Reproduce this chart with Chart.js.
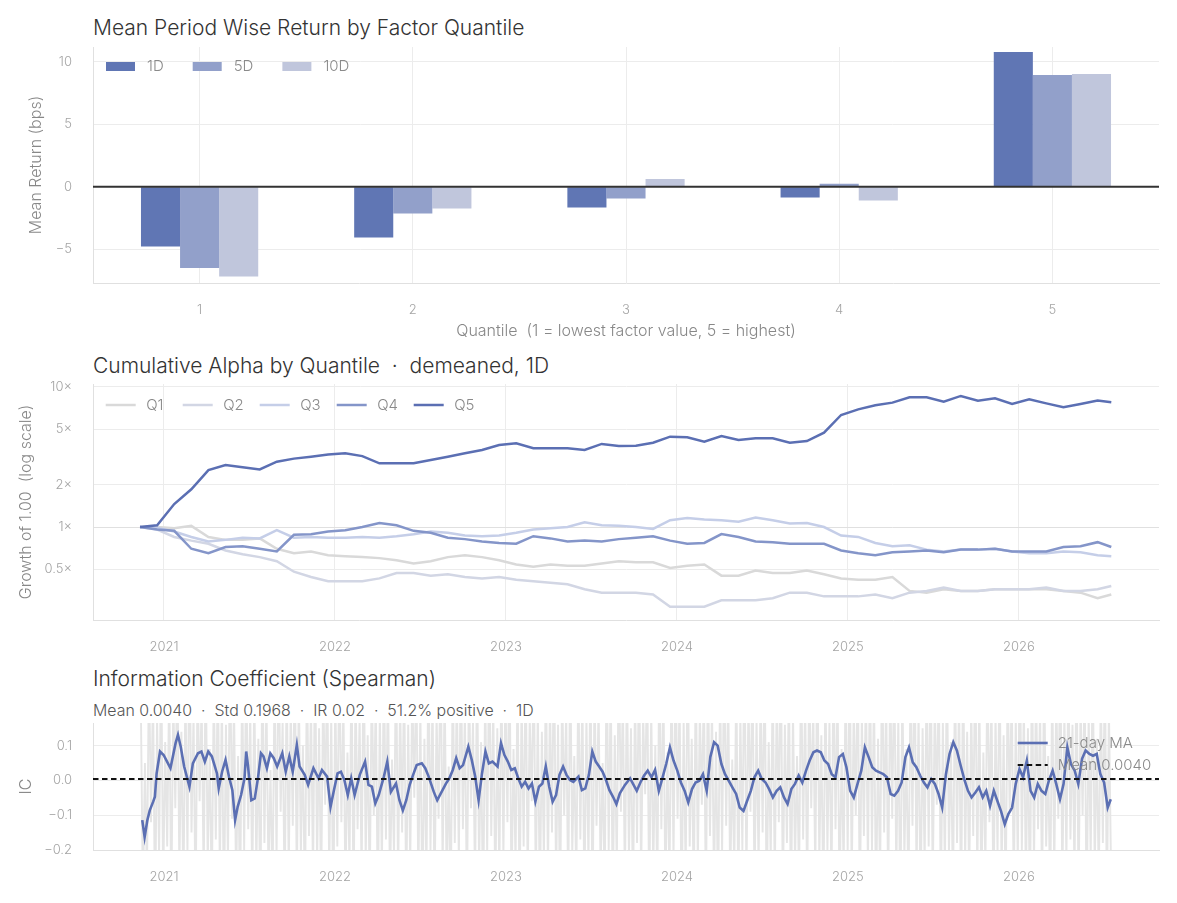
<!DOCTYPE html>
<html>
<head>
<meta charset="utf-8">
<script src="https://cdn.jsdelivr.net/npm/chart.js@4.4.1/dist/chart.umd.min.js"></script>
<style>
  body { margin: 0; background: #fff; font-family: Inter, "Noto Sans", sans-serif; }
  #wrap { position: relative; width: 1177px; height: 903px; overflow: hidden; }
  .panel { position: absolute; left: 0; width: 1177px; }
  .ttl { position: absolute; left: 93px; font-weight: 300; color: #333; font-size: 21px; line-height: 1; white-space: pre; }
  .sub { position: absolute; left: 93px; font-weight: 300; color: #555; font-size: 15.9px; line-height: 1; white-space: pre; }
</style>
</head>
<body>
<div id="wrap">
  <div class="ttl" style="top:17px">Mean Period Wise Return by Factor Quantile</div>
  <div class="panel" style="top:0;height:345px"><canvas id="c1"></canvas></div>

  <div class="ttl" style="top:355px">Cumulative Alpha by Quantile  ·  demeaned, 1D</div>
  <div class="panel" style="top:345px;height:315px"><canvas id="c2"></canvas></div>

  <div class="ttl" style="top:668px">Information Coefficient (Spearman)</div>
  <div class="sub" style="top:703px">Mean 0.0040  ·  Std 0.1968  ·  IR 0.02  ·  51.2% positive  ·  1D</div>
  <div class="panel" style="top:660px;height:243px"><canvas id="c3"></canvas></div>
</div>

<script>
// ---- data: mean return by quantile (bps)
const quantiles = ['1', '2', '3', '4', '5'];
const ret1D  = [-4.78, -4.05, -1.65, -0.85, 10.8];
const ret5D  = [-6.5, -2.13, -0.93, 0.24, 8.96];
const ret10D = [-7.17, -1.73, 0.63, -1.1, 9.04];
const retTicks = [-5, 0, 5, 10];

// ---- data: cumulative growth by quantile (decimal years)
const cumDates = [2020.86, 2020.96, 2021.06, 2021.16, 2021.26, 2021.36, 2021.46, 2021.56, 2021.66, 2021.76,
  2021.86, 2021.96, 2022.06, 2022.16, 2022.26, 2022.36, 2022.46, 2022.56, 2022.66, 2022.76,
  2022.86, 2022.96, 2023.06, 2023.16, 2023.26, 2023.36, 2023.46, 2023.56, 2023.66, 2023.76,
  2023.86, 2023.96, 2024.06, 2024.16, 2024.26, 2024.36, 2024.46, 2024.56, 2024.66, 2024.76,
  2024.86, 2024.96, 2025.06, 2025.16, 2025.26, 2025.36, 2025.46, 2025.56, 2025.66, 2025.76,
  2025.86, 2025.96, 2026.06, 2026.16, 2026.26, 2026.36, 2026.46, 2026.54];
const cumQ1 = [1.00, 1.00, 0.98, 1.02, 0.85, 0.81, 0.81, 0.83, 0.70, 0.65, 0.67, 0.63, 0.62, 0.61, 0.60, 0.58, 0.55, 0.57, 0.61,
  0.63, 0.61, 0.58, 0.54, 0.52, 0.54, 0.53, 0.53, 0.55, 0.57, 0.56, 0.56, 0.51, 0.53, 0.54, 0.45, 0.45, 0.49, 0.47, 0.47,
  0.49, 0.46, 0.43, 0.42, 0.42, 0.44, 0.35, 0.34, 0.36, 0.35, 0.35, 0.36, 0.36, 0.36, 0.36, 0.35, 0.34, 0.31, 0.33];
const cumQ2 = [1.00, 0.96, 0.85, 0.80, 0.76, 0.68, 0.64, 0.61, 0.57, 0.48, 0.44, 0.41, 0.41, 0.41, 0.43, 0.47, 0.47, 0.45, 0.46,
  0.44, 0.43, 0.44, 0.42, 0.41, 0.40, 0.39, 0.36, 0.34, 0.34, 0.34, 0.33, 0.27, 0.27, 0.27, 0.30, 0.30, 0.30, 0.31, 0.34,
  0.34, 0.32, 0.32, 0.32, 0.33, 0.31, 0.34, 0.35, 0.37, 0.35, 0.35, 0.36, 0.36, 0.36, 0.37, 0.35, 0.35, 0.36, 0.38];
const cumQ3 = [1.00, 0.99, 0.93, 0.85, 0.79, 0.81, 0.84, 0.83, 0.95, 0.84, 0.85, 0.84, 0.84, 0.85, 0.84, 0.86, 0.89, 0.93, 0.91,
  0.87, 0.86, 0.87, 0.91, 0.96, 0.98, 1.00, 1.08, 1.03, 1.02, 1.00, 0.97, 1.12, 1.16, 1.13, 1.12, 1.09, 1.17, 1.12, 1.06,
  1.07, 1.00, 0.87, 0.85, 0.77, 0.73, 0.74, 0.69, 0.67, 0.69, 0.69, 0.70, 0.67, 0.65, 0.65, 0.67, 0.66, 0.63, 0.62];
const cumQ4 = [1.00, 0.96, 0.94, 0.70, 0.65, 0.72, 0.73, 0.70, 0.67, 0.88, 0.89, 0.93, 0.95, 1.00, 1.07, 1.03, 0.94, 0.91, 0.84,
  0.82, 0.79, 0.77, 0.76, 0.86, 0.83, 0.79, 0.80, 0.79, 0.82, 0.84, 0.86, 0.80, 0.76, 0.77, 0.89, 0.85, 0.79, 0.78, 0.76,
  0.76, 0.76, 0.68, 0.65, 0.63, 0.66, 0.67, 0.68, 0.66, 0.69, 0.69, 0.70, 0.67, 0.67, 0.67, 0.72, 0.73, 0.78, 0.72];
const cumQ5 = [1.00, 1.03, 1.46, 1.86, 2.55, 2.77, 2.67, 2.58, 2.93, 3.08, 3.18, 3.29, 3.36, 3.21, 2.85, 2.85, 2.85, 3.01, 3.18,
  3.36, 3.55, 3.85, 3.96, 3.65, 3.65, 3.65, 3.55, 3.92, 3.79, 3.81, 4.00, 4.42, 4.37, 4.07, 4.47, 4.18, 4.30, 4.30, 4.00,
  4.11, 4.72, 6.31, 6.92, 7.40, 7.73, 8.43, 8.43, 7.85, 8.63, 7.99, 8.30, 7.56, 8.16, 7.64, 7.16, 7.56, 7.99, 7.77];
const growthTicks = [0.5, 1, 2, 5, 10];
const yearTicks = [2021, 2022, 2023, 2024, 2025, 2026];

// ---- data: information coefficient
const icMean = 0.004;
const icRawStart = 2020.865, icRawEnd = 2026.538;
const icRaw = [
  0.21,-0.34,0.05,-0.28,0.33,-0.12,0.26,-0.41,0.18,-0.22,0.39,-0.31,0.11,-0.19,0.29,-0.37,0.24,-0.08,0.35,-0.26,
  0.14,-0.33,0.27,-0.21,0.42,-0.15,0.19,-0.38,0.31,-0.06,0.23,-0.29,0.36,-0.24,0.09,-0.35,0.28,-0.17,0.32,-0.27,
  0.25,-0.4,0.16,-0.23,0.38,-0.11,0.22,-0.3,0.07,-0.36,0.3,-0.2,0.34,-0.14,0.2,-0.32,0.27,-0.25,0.12,-0.39,
  0.37,-0.18,0.24,-0.28,0.03,-0.33,0.29,-0.22,0.4,-0.09,0.17,-0.35,0.31,-0.26,0.21,-0.13,0.35,-0.3,0.26,-0.21,
  0.1,-0.37,0.33,-0.16,0.23,-0.29,0.38,-0.24,0.15,-0.34,0.28,-0.07,0.32,-0.27,0.19,-0.4,0.25,-0.19,0.36,-0.12,
  0.22,-0.31,0.08,-0.25,0.34,-0.36,0.27,-0.14,0.18,-0.28,0.41,-0.23,0.13,-0.33,0.3,-0.1,0.24,-0.38,0.2,-0.26,
  0.35,-0.17,0.29,-0.32,0.06,-0.22,0.39,-0.29,0.23,-0.15,0.31,-0.35,0.16,-0.24,0.27,-0.05,0.33,-0.3,0.21,-0.39,
  0.12,-0.27,0.36,-0.2,0.25,-0.34,0.19,-0.11,0.4,-0.26,0.28,-0.31,0.04,-0.37,0.32,-0.18,0.26,-0.23,0.37,-0.14,
  0.2,-0.36,0.3,-0.08,0.17,-0.3,0.34,-0.25,0.11,-0.4,0.27,-0.21,0.38,-0.16,0.22,-0.33,0.15,-0.27,0.31,-0.22,
  0.26,-0.12,0.39,-0.34,0.09,-0.24,0.29,-0.37,0.24,-0.19,0.33,-0.28,0.18,-0.06,0.35,-0.31,0.21,-0.36,0.14,-0.23,
  0.32,-0.26,0.23,-0.15,0.41,-0.3,0.16,-0.38,0.28,-0.1,0.2,-0.33,0.36,-0.21,0.07,-0.29,0.3,-0.17,0.25,-0.35,
  0.18,-0.24,0.34,-0.39,0.27,-0.13,0.22,-0.27,0.05,-0.32,0.37,-0.2,0.29,-0.36,0.13,-0.25,0.4,-0.09,0.24,-0.3,
  0.31,-0.22,0.15,-0.35,0.26,-0.18,0.38,-0.28,0.19,-0.04,0.33,-0.37,0.21,-0.26,0.1,-0.31,0.35,-0.14,0.28,-0.33,
  0.08,-0.29,0.3,-0.23,0.36,-0.11,0.24,-0.4,0.17,-0.27,0.39,-0.19,0.12,-0.34,0.32,-0.24,0.2,-0.07,0.27,-0.36,
  0.34,-0.16,0.22,-0.31,0.14,-0.38,0.29,-0.21,0.37,-0.13,0.25,-0.3,0.06,-0.26,0.31,-0.35,0.19,-0.2,0.4,-0.28,
  0.23,-0.09,0.33,-0.32,0.18,-0.25,0.27,-0.15,0.35,-0.37,0.11,-0.22,0.3,-0.29,0.26,-0.12,0.38,-0.34,0.16,-0.18,
  0.29,-0.39,0.2,-0.24,0.07,-0.3,0.36,-0.17,0.24,-0.33,0.32,-0.08,0.21,-0.27,0.39,-0.23,0.13,-0.36,0.28,-0.2,
  0.17,-0.31,0.35,-0.14,0.26,-0.35,0.09,-0.26,0.3,-0.21,0.37,-0.29,0.22,-0.1,0.34,-0.38,0.19,-0.16,0.27,-0.25,
  0.33,-0.2,0.26,-0.37,0.12,-0.29,0.38,-0.15,0.24,-0.32,0.3,-0.11,0.35,-0.27,0.18,-0.4,0.28,-0.22,0.09,-0.34,
  0.27,-0.13,0.4,-0.28,0.2,-0.36,0.15,-0.24,0.32,-0.19,0.37,-0.31,0.23,-0.07,0.29,-0.35,0.17,-0.26,0.34,-0.21,
  0.11,-0.33,0.31,-0.18,0.25,-0.39,0.36,-0.23,0.14,-0.3,0.22,-0.16,0.39,-0.28,0.26,-0.34,0.08,-0.25,0.33,-0.12,
  0.24,-0.37,0.19,-0.21,0.35,-0.27,0.13,-0.35,0.3,-0.09,0.27,-0.32,0.18,-0.24,0.41,-0.2,0.22,-0.3,0.15,-0.38,
  0.36,-0.25,0.28,-0.14,0.21,-0.33,0.34,-0.19,0.07,-0.36,0.3,-0.27,0.25,-0.11,0.38,-0.31,0.2,-0.23,0.32,-0.17,
  0.16,-0.28,0.37,-0.34,0.23,-0.1,0.29,-0.39,0.19,-0.22,0.35,-0.26,0.12,-0.3,0.27,-0.18,0.33,-0.35,0.21,-0.24
];
const icMaDates = [2020.873,2020.887,2020.903,2020.917,2020.937,2020.947,2020.957,2020.977,2020.998,2021.018,
  2021.038,2021.068,2021.082,2021.098,2021.118,2021.149,2021.169,2021.199,2021.219,2021.239,
  2021.259,2021.280,2021.310,2021.320,2021.340,2021.360,2021.380,2021.400,2021.416,2021.431,
  2021.451,2021.471,2021.481,2021.491,2021.511,2021.531,2021.551,2021.567,2021.582,2021.602,
  2021.622,2021.642,2021.662,2021.692,2021.712,2021.733,2021.753,2021.777,2021.793,2021.823,
  2021.843,2021.874,2021.904,2021.924,2021.954,2021.974,2021.994,2022.015,2022.035,2022.055,
  2022.075,2022.095,2022.115,2022.145,2022.176,2022.196,2022.216,2022.236,2022.256,2022.286,
  2022.306,2022.327,2022.357,2022.377,2022.397,2022.417,2022.437,2022.457,2022.478,2022.508,
  2022.528,2022.548,2022.578,2022.598,2022.619,2022.649,2022.669,2022.689,2022.709,2022.729,
  2022.749,2022.780,2022.800,2022.820,2022.840,2022.860,2022.880,2022.900,2022.921,2022.951,
  2022.971,2022.991,2023.011,2023.031,2023.052,2023.072,2023.092,2023.112,2023.132,2023.152,
  2023.172,2023.193,2023.213,2023.233,2023.253,2023.273,2023.293,2023.313,2023.334,2023.354,
  2023.374,2023.394,2023.424,2023.444,2023.464,2023.485,2023.505,2023.525,2023.545,2023.565,
  2023.585,2023.605,2023.626,2023.646,2023.666,2023.696,2023.726,
  2023.765,2023.786,2023.808,2023.829,2023.851,2023.872,2023.894,2023.916,2023.937,2023.959,
  2023.980,2024.002,2024.023,2024.045,2024.066,2024.088,2024.109,2024.131,2024.152,2024.174,
  2024.195,2024.217,2024.238,2024.260,2024.281,2024.303,2024.324,2024.346,2024.367,2024.389,
  2024.410,2024.432,2024.453,2024.475,2024.496,2024.518,2024.539,2024.561,2024.583,2024.604,
  2024.626,2024.647,2024.669,2024.690,2024.712,2024.733,2024.755,2024.776,2024.798,2024.819,
  2024.841,2024.862,2024.884,2024.905,2024.927,2024.948,2024.970,2024.991,2025.013,2025.034,
  2025.056,2025.078,2025.099,2025.121,2025.142,2025.164,2025.185,2025.207,2025.228,2025.250,
  2025.271,2025.293,2025.314,2025.336,2025.357,2025.379,2025.400,2025.422,2025.444,2025.465,
  2025.487,2025.508,2025.530,2025.551,2025.573,2025.594,2025.616,2025.637,2025.659,2025.680,
  2025.702,2025.723,2025.745,2025.766,2025.788,2025.809,2025.831,2025.853,2025.874,2025.895,
  2025.917,2025.938,2025.960,2025.981,2026.003,2026.024,2026.046,2026.068,2026.089,2026.110,
  2026.132,2026.154,2026.175,2026.197,2026.218,2026.240,2026.261,2026.283,2026.304,2026.326,
  2026.347,2026.369,2026.390,2026.412,2026.433,2026.455,2026.476,2026.498,2026.519,2026.537];
const icMaValues = [-0.114,-0.163,-0.114,-0.086,-0.061,-0.047,0.020,0.083,0.073,0.054,
  0.035,0.107,0.131,0.097,0.040,-0.018,0.049,0.078,0.083,0.054,
  0.083,0.069,0.020,-0.023,0.025,0.059,0.011,-0.028,-0.114,-0.076,
  -0.042,0.006,0.083,0.044,-0.057,-0.052,0.011,0.078,0.069,0.035,
  0.078,0.064,0.040,0.078,0.025,0.069,0.025,0.102,0.040,0.016,
  -0.013,0.035,0.006,0.030,0.011,-0.076,-0.028,0.020,0.025,0.001,
  -0.042,0.006,-0.042,0.016,0.054,-0.013,-0.018,-0.066,-0.042,0.011,
  0.054,-0.033,-0.009,-0.057,-0.086,-0.057,-0.013,0.016,0.044,0.049,
  0.035,0.011,-0.033,-0.057,-0.037,-0.009,0.006,0.030,0.064,0.035,
  0.044,0.097,0.059,0.011,-0.057,0.020,0.083,0.049,0.054,0.040,
  0.107,0.073,0.054,0.030,0.035,0.006,-0.018,-0.004,-0.023,-0.009,
  -0.061,-0.018,-0.009,0.040,-0.018,-0.061,-0.042,0.016,0.040,0.016,
  0.001,-0.004,0.011,-0.028,-0.023,0.016,0.083,0.054,0.040,0.025,
  0.001,-0.028,-0.047,-0.068,-0.037,-0.013,0.006,
  -0.030,-0.006,0.014,0.028,0.009,0.030,-0.030,0.009,0.047,0.095,
  0.057,0.028,-0.006,-0.030,-0.063,-0.025,-0.006,-0.001,0.018,-0.030,
  0.067,0.110,0.100,0.047,0.018,-0.001,-0.020,-0.039,-0.078,-0.088,
  -0.059,-0.030,0.009,0.028,0.004,-0.006,-0.025,-0.049,-0.030,-0.020,
  -0.049,-0.068,-0.025,-0.010,0.014,-0.006,0.028,0.057,0.081,0.086,
  0.081,0.057,0.047,0.018,0.009,0.067,0.076,0.038,-0.030,-0.049,
  -0.010,0.028,0.095,0.067,0.038,0.028,0.023,0.018,0.009,-0.039,
  -0.044,-0.030,-0.006,0.067,0.095,0.052,0.038,0.014,-0.006,-0.020,
  0.004,-0.010,-0.039,-0.078,0.018,0.076,0.110,0.086,0.043,0.004,
  -0.030,-0.049,-0.035,-0.020,-0.049,-0.030,-0.073,-0.030,-0.059,-0.088,
  -0.126,-0.097,-0.078,-0.010,0.033,0.009,0.057,-0.030,-0.049,-0.010,
  -0.030,-0.039,-0.001,0.028,-0.010,-0.054,-0.010,0.095,0.047,0.028,
  -0.010,0.062,0.086,0.076,0.071,0.076,0.018,-0.006,-0.078,-0.054];
const icTicks = [-0.2, -0.1, 0, 0.1];

// ---- shared look
Chart.defaults.font.family = 'Inter, "Noto Sans", sans-serif';
Chart.defaults.font.weight = 300;
Chart.defaults.animation = false;
const dark = '#5b6fb3';
const tickColor = '#a4a4a4', gridColor = '#ececec', axisLine = '#e0e0e0', titleColor = '#888';
const xMin = 2020.585, xMax = 2026.819;
const minus = v => String(v).replace('-', '\u2212');

// legend drawn inside the plot area
const insideLegend = {
  id: 'insideLegend',
  afterDatasetsDraw(chart, args, o) {
    if (!o || !o.items) return;
    const {ctx, chartArea} = chart;
    ctx.save();
    ctx.font = '300 15px Inter, "Noto Sans", sans-serif';
    ctx.textBaseline = 'middle';
    ctx.textAlign = 'left';
    let x = o.right ? chartArea.right - o.right : chartArea.left + o.left;
    let y = chartArea.top + o.top;
    o.items.forEach(i => {
      const ds = chart.data.datasets[i];
      if (o.kind === 'box') {
        ctx.fillStyle = ds.backgroundColor;
        ctx.fillRect(x, y - 4.5, o.sampleW, 9);
      } else {
        ctx.strokeStyle = ds.borderColor;
        ctx.lineWidth = ds.borderWidth;
        ctx.setLineDash(ds.borderDash || []);
        ctx.beginPath();
        ctx.moveTo(x, y);
        ctx.lineTo(x + o.sampleW, y);
        ctx.stroke();
        ctx.setLineDash([]);
      }
      ctx.fillStyle = '#8a8a8a';
      ctx.fillText(ds.label, x + o.sampleW + o.textGap, y);
      const w = ctx.measureText(ds.label).width;
      if (o.column) y += o.rowH;
      else x += o.step ? o.step : o.sampleW + o.textGap + w + o.gap;
    });
    ctx.restore();
  }
};

// dark zero line on top of the bars
const zeroLine = {
  id: 'zeroLine',
  afterDatasetsDraw(chart) {
    const {ctx, chartArea, scales} = chart;
    const py = scales.y.getPixelForValue(0);
    ctx.save();
    ctx.strokeStyle = '#333';
    ctx.lineWidth = 2;
    ctx.beginPath();
    ctx.moveTo(chartArea.left, py);
    ctx.lineTo(chartArea.right, py);
    ctx.stroke();
    ctx.restore();
  }
};

function yearAxis(height, showGrid) {
  return {
    type: 'linear', min: xMin, max: xMax,
    afterBuildTicks: s => { s.ticks = yearTicks.map(v => ({value: v})); },
    afterFit: s => { s.height = height; },
    grid: {display: showGrid, color: gridColor, drawTicks: false},
    border: {color: axisLine},
    ticks: {color: tickColor, padding: 19, font: {size: 13}, autoSkip: false, maxRotation: 0, callback: v => String(v)}
  };
}

// ---- chart 1: mean return bars
new Chart(document.getElementById('c1'), {
  type: 'bar',
  data: {
    labels: quantiles,
    datasets: [
      {label: '1D', data: ret1D, backgroundColor: '#6076b4'},
      {label: '5D', data: ret5D, backgroundColor: '#92a0ca'},
      {label: '10D', data: ret10D, backgroundColor: '#c0c6dc'}
    ]
  },
  options: {
    responsive: true,
    maintainAspectRatio: false,
    layout: {padding: {top: 47, right: 18, left: 0, bottom: 0}},
    datasets: {bar: {categoryPercentage: 0.55, barPercentage: 1}},
    plugins: {
      legend: {display: false},
      tooltip: {enabled: false},
      insideLegend: {items: [0, 1, 2], kind: 'box', left: 13, top: 19.5, sampleW: 29, textGap: 12, gap: 29}
    },
    scales: {
      x: {
        grid: {color: gridColor, offset: false, drawTicks: false},
        border: {color: axisLine},
        ticks: {color: tickColor, padding: 19, font: {size: 13}},
        title: {display: true, text: 'Quantile  (1 = lowest factor value, 5 = highest)', color: titleColor,
                font: {size: 16}, padding: {top: 0, bottom: 4.4}},
        afterFit: s => { s.height = 62; }
      },
      y: {
        min: -7.7, max: 11.2,
        afterBuildTicks: s => { s.ticks = retTicks.map(v => ({value: v})); },
        afterFit: s => { s.width = 93; },
        grid: {color: gridColor, drawTicks: false},
        border: {color: axisLine},
        ticks: {color: tickColor, padding: 21, font: {size: 13}, callback: v => minus(v)},
        title: {display: true, text: 'Mean Return (bps)', color: titleColor, font: {size: 16}, padding: {top: 26.4, bottom: 0}}
      }
    }
  },
  plugins: [zeroLine, insideLegend]
});

// ---- chart 2: cumulative alpha (log scale)
const qColors = ['#d9d9d9', '#d2d6e4', '#c5cee8', '#8495c9', '#5b6fb3'];
const qSeries = [cumQ1, cumQ2, cumQ3, cumQ4, cumQ5];
new Chart(document.getElementById('c2'), {
  type: 'line',
  data: {
    datasets: qSeries.map((vals, i) => ({
      label: 'Q' + (i + 1),
      data: cumDates.map((d, k) => ({x: d, y: vals[k]})),
      borderColor: qColors[i],
      borderWidth: 2.5,
      pointRadius: 0,
      tension: 0,
      order: 4 - i
    }))
  },
  options: {
    responsive: true,
    maintainAspectRatio: false,
    layout: {padding: {top: 39, right: 18, left: 0, bottom: 0}},
    plugins: {
      legend: {display: false},
      tooltip: {enabled: false},
      insideLegend: {items: [0, 1, 2, 3, 4], kind: 'line', left: 12.7, top: 21, sampleW: 30, textGap: 10.5, step: 77}
    },
    scales: {
      x: yearAxis(40, true),
      y: {
        type: 'logarithmic', min: 0.217, max: 10.5,
        afterBuildTicks: s => { s.ticks = growthTicks.map(v => ({value: v})); },
        afterFit: s => { s.width = 93; },
        grid: {color: c => c.tick && c.tick.value === 1 ? '#e0e0e0' : gridColor, drawTicks: false},
        border: {color: axisLine},
        ticks: {color: tickColor, padding: 21, font: {size: 13}, autoSkip: false, callback: v => v + '\u00d7'},
        title: {display: true, text: 'Growth of 1.00  (log scale)', color: titleColor, font: {size: 16}, padding: {top: 16.4, bottom: 0}}
      }
    }
  },
  plugins: [insideLegend]
});

// ---- chart 3: information coefficient
const icStep = (icRawEnd - icRawStart) / (icRaw.length - 1);
new Chart(document.getElementById('c3'), {
  type: 'line',
  data: {
    datasets: [
      {label: 'IC', data: icRaw.map((v, k) => ({x: icRawStart + k * icStep, y: v})),
       borderColor: '#e5e5e5', borderWidth: 1.9, pointRadius: 0, tension: 0, order: 3},
      {label: '21-day MA', data: icMaDates.map((d, k) => ({x: d, y: icMaValues[k]})),
       borderColor: dark, borderWidth: 2.6, pointRadius: 0, tension: 0, order: 2},
      {label: 'Mean 0.0040', data: [{x: xMin, y: icMean}, {x: xMax, y: icMean}],
       borderColor: '#111', borderWidth: 2, borderDash: [5.5, 3.5], pointRadius: 0, order: 1}
    ]
  },
  options: {
    responsive: true,
    maintainAspectRatio: false,
    layout: {padding: {top: 63, right: 18, left: 0, bottom: 0}},
    plugins: {
      legend: {display: false},
      tooltip: {enabled: false},
      insideLegend: {items: [1, 2], kind: 'line', column: true, right: 141.3, top: 20, rowH: 22, sampleW: 30, textGap: 10}
    },
    scales: {
      x: yearAxis(53, false),
      y: {
        min: -0.2, max: 0.165,
        afterBuildTicks: s => { s.ticks = icTicks.map(v => ({value: v})); },
        afterFit: s => { s.width = 93; },
        grid: {color: gridColor, drawTicks: false},
        border: {color: axisLine},
        ticks: {color: tickColor, padding: 21, font: {size: 13}, callback: v => minus(v.toFixed(1))},
        title: {display: true, text: 'IC', color: titleColor, font: {size: 16}, padding: {top: 16.4, bottom: 0}}
      }
    }
  },
  plugins: [insideLegend]
});
</script>
</body>
</html>
